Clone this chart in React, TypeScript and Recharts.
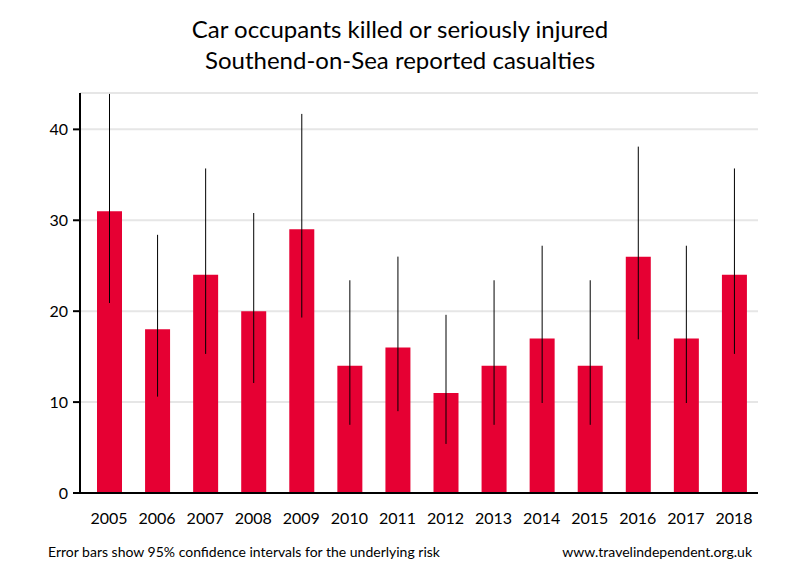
import React from 'react';
import { BarChart, Bar, XAxis, YAxis, CartesianGrid, ErrorBar } from 'recharts';

const years = ['2005', '2006', '2007', '2008', '2009', '2010', '2011', '2012', '2013', '2014', '2015', '2016', '2017', '2018'];
const casualties = [31, 18, 24, 20, 29, 14, 16, 11, 14, 17, 14, 26, 17, 24];
const ciLow = [20.9, 10.6, 15.3, 12.1, 19.3, 7.5, 9.0, 5.4, 7.5, 9.9, 7.5, 16.9, 9.9, 15.3];
const ciHigh = [43.9, 28.4, 35.7, 30.8, 41.7, 23.4, 26.0, 19.6, 23.4, 27.2, 23.4, 38.1, 27.2, 35.7];
const yTicks = [0, 10, 20, 30, 40];

const data = years.map((year, i) => ({
  year,
  value: casualties[i],
  err: [casualties[i] - ciLow[i], ciHigh[i] - casualties[i]],
}));

const font = 'Lato, "Open Sans", sans-serif';

export default function App() {
  return (
    <div style={{ position: 'relative', width: 800, height: 580, fontFamily: font, background: '#fff' }}>
      <style>{'body{margin:0}'}</style>
      <div style={{ position: 'absolute', top: 13, left: 0, width: 800, textAlign: 'center', fontSize: 24, lineHeight: '31px', color: '#000' }}>
        <div>Car occupants killed or seriously injured</div>
        <div>Southend-on-Sea reported casualties</div>
      </div>
      <BarChart
        width={800}
        height={580}
        data={data}
        margin={{ top: 93, right: 42, left: 20, bottom: 57 }}
        style={{ position: 'absolute', top: 0, left: 0 }}
      >
        <CartesianGrid horizontal vertical={false} stroke="#e6e6e6" strokeWidth={2} />
        <XAxis
          dataKey="year"
          height={30}
          padding={{ left: 5, right: 0 }}
          axisLine={{ stroke: '#000', strokeWidth: 2 }}
          tickLine={false}
          tickSize={0}
          tickMargin={20}
          tick={{ fill: '#000', fontSize: 16, fontFamily: font }}
          interval={0}
        />
        <YAxis
          width={60}
          domain={[0, 44]}
          ticks={yTicks}
          allowDataOverflow
          axisLine={{ stroke: '#000', strokeWidth: 2 }}
          tickLine={{ stroke: '#000', strokeWidth: 2 }}
          tickSize={7}
          tickMargin={5}
          tick={{ fill: '#000', fontSize: 16, fontFamily: font }}
        />
        <Bar dataKey="value" fill="#e60033" barSize={25} isAnimationActive={false}>
          <ErrorBar dataKey="err" width={0} stroke="#000" strokeWidth={1} direction="y" />
        </Bar>
      </BarChart>
      <div style={{ position: 'absolute', top: 543, left: 48, fontSize: 14, color: '#000' }}>
        Error bars show 95% confidence intervals for the underlying risk
      </div>
      <div style={{ position: 'absolute', top: 543, right: 48, fontSize: 14, color: '#000' }}>
        www.travelindependent.org.uk
      </div>
    </div>
  );
}
